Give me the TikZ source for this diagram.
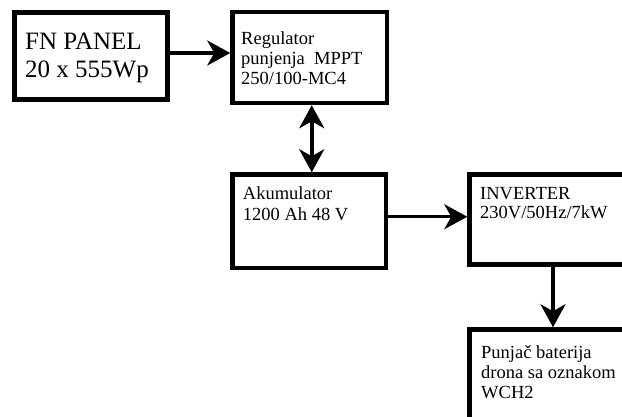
\documentclass[tikz,border=0pt]{standalone}
\usepackage{fontspec}
\setmainfont{Liberation Serif}
\usetikzlibrary{arrows.meta}
\tikzset{
  box/.style={draw=black, line width=4.5pt, fill=white, rectangle, inner sep=0pt},
  label/.style={anchor=base west, inner sep=0pt, align=left, text=black},
  small/.style={font=\fontsize{18.5}{20}\selectfont},
  big/.style={font=\fontsize{25}{28}\selectfont},
  head/.style={Stealth[length=23pt,width=25pt,inset=7pt]},
  tip/.style={line width=3.5pt, -{Stealth[length=23pt,width=25pt,inset=7pt]}},
  tips/.style={line width=3.5pt, {Stealth[length=23pt,width=25pt,inset=7pt]}-{Stealth[length=23pt,width=25pt,inset=7pt]}}
}
\begin{document}
\begin{tikzpicture}[x=1pt,y=-1pt]
\useasboundingbox (0,0) rectangle (622,417);
\clip (0,0) rectangle (622,417);
\fill[white] (0,0) rectangle (622,417);

% blocks
\node[box, minimum width=153pt, minimum height=87pt] (fn) at (91,56) {};
\node[box, minimum width=154.5pt, minimum height=91pt] (reg) at (309.75,57.5) {};
\node[box, minimum width=153.5pt, minimum height=93.5pt] (akum) at (309.25,221.25) {};
\node[box, minimum width=167pt, minimum height=90pt] (inv) at (553,219.5) {};
\node[box, minimum width=167pt, minimum height=110pt] (pun) at (553,384.5) {};

% block texts (anchored on the baseline of their last line)
\node[label, big] (tfn) at (25,78) {FN PANEL\\20 x 555Wp};
\node[label, small] (treg) at (241,85) {Regulator\\punjenja\ \ MPPT\\250/100-MC4};
\node[label, small, font=\fontsize{18.5}{20.7}\selectfont] (takum) at (242.7,220.7) {Akumulator\\1200 Ah 48 V};
\node[label, small] (tinv) at (480,219) {INVERTER\\230V/50Hz/7kW};
\node[label, small] (tpun) at (481,398) {Punjač baterija\\drona sa oznakom\\WCH2};

% connectors
\draw[tip] ([yshift=3pt]fn.east) -- ([yshift=3pt]fn.east -| reg.west);
\draw[tips] ([xshift=2pt]reg.south) -- ([xshift=2pt]reg.south |- akum.north);
\draw[tip] ([yshift=4.5pt]akum.east) -- ([yshift=4.5pt]akum.east -| inv.west);
\draw[tip] (inv.south) -- (pun.north);
\end{tikzpicture}
\end{document}
